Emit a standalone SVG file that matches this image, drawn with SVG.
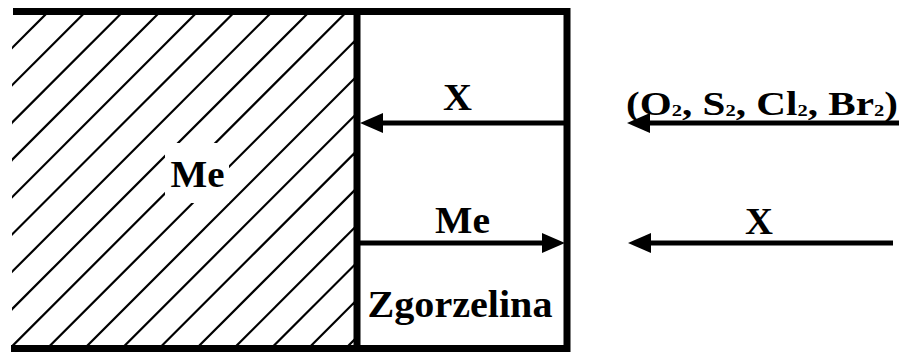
<svg xmlns="http://www.w3.org/2000/svg" width="899" height="352" viewBox="0 0 899 352">
<style>
.frame{stroke:#000;stroke-width:7;fill:none;stroke-linecap:butt}
.hatch line{stroke:#000;stroke-width:2.2}
.arrow{stroke:#000;stroke-width:5;fill:none;marker-end:url(#ah)}
.t{font-family:"Liberation Serif","DejaVu Serif",serif;font-weight:bold;fill:#000}
.big{font-size:37px;text-anchor:middle}
.sub{font-size:17px}
</style>
<defs>
<marker id="ah" markerUnits="userSpaceOnUse" markerWidth="26" markerHeight="22" refX="0" refY="10" orient="auto"><path d="M0,0 L23,10 L0,20 Z" fill="#000"/></marker>
<clipPath id="hc"><path clip-rule="evenodd" d="M12,15 H354 V345 H12 Z M165,143 H229 V203 H165 Z"/></clipPath>
</defs>
<rect width="899" height="352" fill="#fff"/>
<g id="metal">
<g class="hatch" clip-path="url(#hc)">
<line x1="-300" y1="360" x2="60" y2="0"/>
<line x1="-262.7" y1="360" x2="97.3" y2="0"/>
<line x1="-225.4" y1="360" x2="134.6" y2="0"/>
<line x1="-188.1" y1="360" x2="171.9" y2="0"/>
<line x1="-150.8" y1="360" x2="209.2" y2="0"/>
<line x1="-113.5" y1="360" x2="246.5" y2="0"/>
<line x1="-76.2" y1="360" x2="283.8" y2="0"/>
<line x1="-38.9" y1="360" x2="321.1" y2="0"/>
<line x1="-1.6" y1="360" x2="358.4" y2="0"/>
<line x1="35.7" y1="360" x2="395.7" y2="0"/>
<line x1="73" y1="360" x2="433" y2="0"/>
<line x1="110.3" y1="360" x2="470.3" y2="0"/>
<line x1="147.6" y1="360" x2="507.6" y2="0"/>
<line x1="184.9" y1="360" x2="544.9" y2="0"/>
<line x1="222.2" y1="360" x2="582.2" y2="0"/>
<line x1="259.5" y1="360" x2="619.5" y2="0"/>
<line x1="296.8" y1="360" x2="656.8" y2="0"/>
<line x1="334.1" y1="360" x2="694.1" y2="0"/>
</g>
<text class="t big" x="197.5" y="187" textLength="54" lengthAdjust="spacingAndGlyphs">Me</text>
</g>
<g id="frame">
<path class="frame" d="M13,11.5 H570.5 M567,8 V352 M11,348.5 H570.5 M357,8 V352"/>
</g>
<g id="scale">
<text class="t big" x="460" y="317" font-size="35" textLength="185" lengthAdjust="spacingAndGlyphs">Zgorzelina</text>
</g>
<g id="connectors">
<line class="arrow" x1="567" y1="123" x2="383" y2="123"/>
<line class="arrow" x1="357" y1="243" x2="542" y2="243"/>
<line class="arrow" x1="899" y1="123" x2="650" y2="123"/>
<line class="arrow" x1="893" y1="243" x2="651" y2="243"/>
</g>
<g id="labels">
<text class="t big" x="457.5" y="110" textLength="29" lengthAdjust="spacingAndGlyphs">X</text>
<text class="t big" x="462.5" y="233" textLength="55" lengthAdjust="spacingAndGlyphs">Me</text>
<text class="t big" x="759" y="234" textLength="28" lengthAdjust="spacingAndGlyphs">X</text>
<text class="t" transform="scale(1.21,1)" font-size="34" x="517.4" y="115">(O<tspan class="sub" dy="1.5">2</tspan><tspan dy="-1.5">, S</tspan><tspan class="sub" dy="1.5">2</tspan><tspan dy="-1.5">, Cl</tspan><tspan class="sub" dy="1.5">2</tspan><tspan dy="-1.5">, Br</tspan><tspan class="sub" dy="1.5">2</tspan><tspan dy="-1.5">)</tspan></text>
</g>
</svg>
